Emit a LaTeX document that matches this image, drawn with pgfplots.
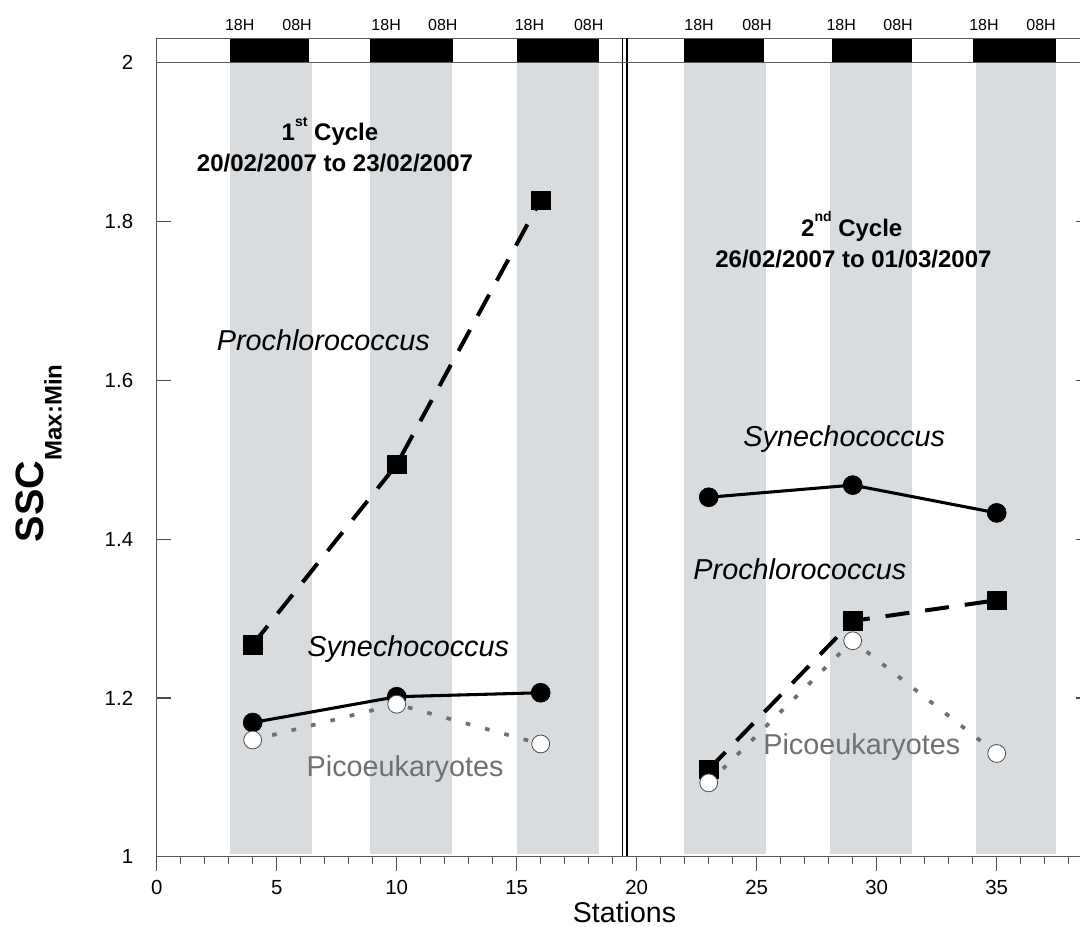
\documentclass[border=0pt]{standalone}
\usepackage{pgfplots}
\pgfplotsset{compat=1.18}
\usepackage{fontspec}
\setmainfont{Liberation Sans}
\definecolor{band}{RGB}{216,220,223}
\definecolor{pico}{RGB}{112,112,112}
\tikzset{tlab/.style={anchor=base, inner sep=0pt, font=\fontsize{12}{13}\selectfont}}
\newcommand{\cycsup}[1]{\raisebox{11pt}{\fontsize{10.5}{11}\selectfont #1}}
\begin{document}
\begin{tikzpicture}
\begin{axis}[
  scale only axis,
  width=700.2pt, height=595.5pt,
  at={(0,0)}, anchor=south west,
  xmin=0, xmax=38.9, ymin=1, ymax=2,
  xtick={0,5,10,15,20,25,30,35},
  xticklabels={0,5,10,15,20,25,30,35},
  minor xtick={1,2,...,38},
  ytick={1,1.2,1.4,1.6,1.8,2},
  yticklabels={1,1.2,1.4,1.6,1.8,2},
  xtick pos=left, ytick pos=both,
  xtick align=outside, ytick align=inside,
  major tick length=10.5pt, minor tick length=5.25pt,
  tick style={black!70, line width=0.9pt},
  axis line style={black!65, line width=0.9pt},
  xticklabel style={font=\fontsize{15.3}{16}\selectfont, inner sep=0pt, anchor=north, yshift=-7pt},
  yticklabel style={font=\fontsize{15.3}{16}\selectfont, inner sep=0pt, anchor=east, xshift=-17.5pt},
  /pgf/number format/assume math mode=true,
  clip=false,
  axis on top,
]
% night/day shading
\fill[band] (axis cs:3.05,1.004) rectangle (axis cs:6.47,2);
\fill[band] (axis cs:8.89,1.004) rectangle (axis cs:12.30,2);
\fill[band] (axis cs:15.0,1.004) rectangle (axis cs:18.43,2);
\fill[band] (axis cs:21.97,1.004) rectangle (axis cs:25.39,2);
\fill[band] (axis cs:28.05,1.004) rectangle (axis cs:31.47,2);
\fill[band] (axis cs:34.14,1.004) rectangle (axis cs:37.46,2);
% top bar
\fill[black] (axis cs:3.05,2) rectangle (axis cs:6.36,2.0307);
\fill[black] (axis cs:8.89,2) rectangle (axis cs:12.33,2.0307);
\fill[black] (axis cs:15.0,2) rectangle (axis cs:18.43,2.0307);
\fill[black] (axis cs:21.97,2) rectangle (axis cs:25.3,2.0307);
\fill[black] (axis cs:28.14,2) rectangle (axis cs:31.47,2.0307);
\fill[black] (axis cs:34.03,2) rectangle (axis cs:37.46,2.0307);
\draw[black!65, line width=0.8pt] (axis cs:0,2) -- (axis cs:0,2.0307) -- (axis cs:38.9,2.0307);
% double break line
\draw[black, line width=1.2pt] (axis cs:19.41,1) -- (axis cs:19.41,2.0307);
\draw[black, line width=1.2pt] (axis cs:19.59,1) -- (axis cs:19.59,2.0307);
% time labels
\node[tlab] at (axis cs:3.46,2.0403) {18H};
\node[tlab] at (axis cs:9.56,2.0403) {18H};
\node[tlab] at (axis cs:15.53,2.0403) {18H};
\node[tlab] at (axis cs:22.6,2.0403) {18H};
\node[tlab] at (axis cs:28.52,2.0403) {18H};
\node[tlab] at (axis cs:34.47,2.0403) {18H};
\node[tlab] at (axis cs:5.85,2.0403) {08H};
\node[tlab] at (axis cs:11.92,2.0403) {08H};
\node[tlab] at (axis cs:18.0,2.0403) {08H};
\node[tlab] at (axis cs:25.01,2.0403) {08H};
\node[tlab] at (axis cs:30.89,2.0403) {08H};
\node[tlab] at (axis cs:36.85,2.0403) {08H};

% Prochlorococcus
\addplot[black, line width=3pt, dash pattern=on 18pt off 12pt, mark=square*, mark size=6.9pt, mark options={solid, fill=black, line width=0.5pt}]
  coordinates {(4,1.267) (10,1.494) (16,1.827)};
\addplot[black, line width=3pt, dash pattern=on 18pt off 12pt, mark=square*, mark size=6.9pt, mark options={solid, fill=black, line width=0.5pt}]
  coordinates {(23,1.110) (29,1.297) (35,1.323)};
% Synechococcus
\addplot[black, line width=2.3pt, mark=*, mark size=7.1pt, mark options={solid, fill=black, line width=0.5pt}]
  coordinates {(4,1.169) (10,1.2015) (16,1.2065)};
\addplot[black, line width=2.3pt, mark=*, mark size=7.1pt, mark options={solid, fill=black, line width=0.5pt}]
  coordinates {(23,1.4527) (29,1.468) (35,1.433)};
% Picoeukaryotes
\addplot[pico, line width=2.8pt, dash pattern=on 3.5pt off 11.5pt, mark=*, mark size=6.7pt, mark options={solid, fill=white, draw=black!70, line width=0.6pt}]
  coordinates {(4,1.147) (10,1.192) (16,1.142)};
\addplot[pico, line width=2.8pt, dash pattern=on 3.5pt off 11.5pt, mark=*, mark size=6.7pt, mark options={solid, fill=white, draw=black!70, line width=0.6pt}]
  coordinates {(23,1.093) (29,1.272) (35,1.130)};

% annotations
\node[anchor=base, font=\fontsize{18}{20}\selectfont\bfseries] at (axis cs:7.22,1.9014) {1\cycsup{st} Cycle};
\node[anchor=base, font=\fontsize{18}{20}\selectfont\bfseries] at (axis cs:7.43,1.8636) {20/02/2007 to 23/02/2007};
\node[anchor=base, font=\fontsize{18}{20}\selectfont\bfseries] at (axis cs:28.96,1.7817) {2\cycsup{nd} Cycle};
\node[anchor=base, font=\fontsize{18}{20}\selectfont\bfseries] at (axis cs:29.03,1.7423) {26/02/2007 to 01/03/2007};
\node[anchor=base, font=\fontsize{21.6}{24}\selectfont\itshape] at (axis cs:6.94,1.6373) {Prochlorococcus};
\node[anchor=base, font=\fontsize{21.6}{24}\selectfont\itshape] at (axis cs:10.48,1.2519) {Synechococcus};
\node[anchor=base, font=\fontsize{21.6}{24}\selectfont, text=pico] at (axis cs:10.35,1.1016) {Picoeukaryotes};
\node[anchor=base, font=\fontsize{21.6}{24}\selectfont\itshape] at (axis cs:28.65,1.5164) {Synechococcus};
\node[anchor=base, font=\fontsize{21.6}{24}\selectfont\itshape] at (axis cs:26.8,1.3485) {Prochlorococcus};
\node[anchor=base, font=\fontsize{21.6}{24}\selectfont, text=pico] at (axis cs:29.38,1.1281) {Picoeukaryotes};
\end{axis}
% axis labels
\node[anchor=base, inner sep=0pt, font=\fontsize{21.4}{23}\selectfont] at (350.85pt,-49pt) {Stations};
\node[anchor=base, inner sep=0pt, rotate=90, font=\bfseries] at (-85.05pt,302.5pt)
  {\fontsize{29.7}{31}\selectfont SSC\raisebox{-13.8pt}{\fontsize{18}{19}\selectfont Max:Min}};
\pgfresetboundingbox
\path[use as bounding box] (-117.525pt,-51.975pt) rectangle (692.475pt,642.525pt);
\end{tikzpicture}
\end{document}
